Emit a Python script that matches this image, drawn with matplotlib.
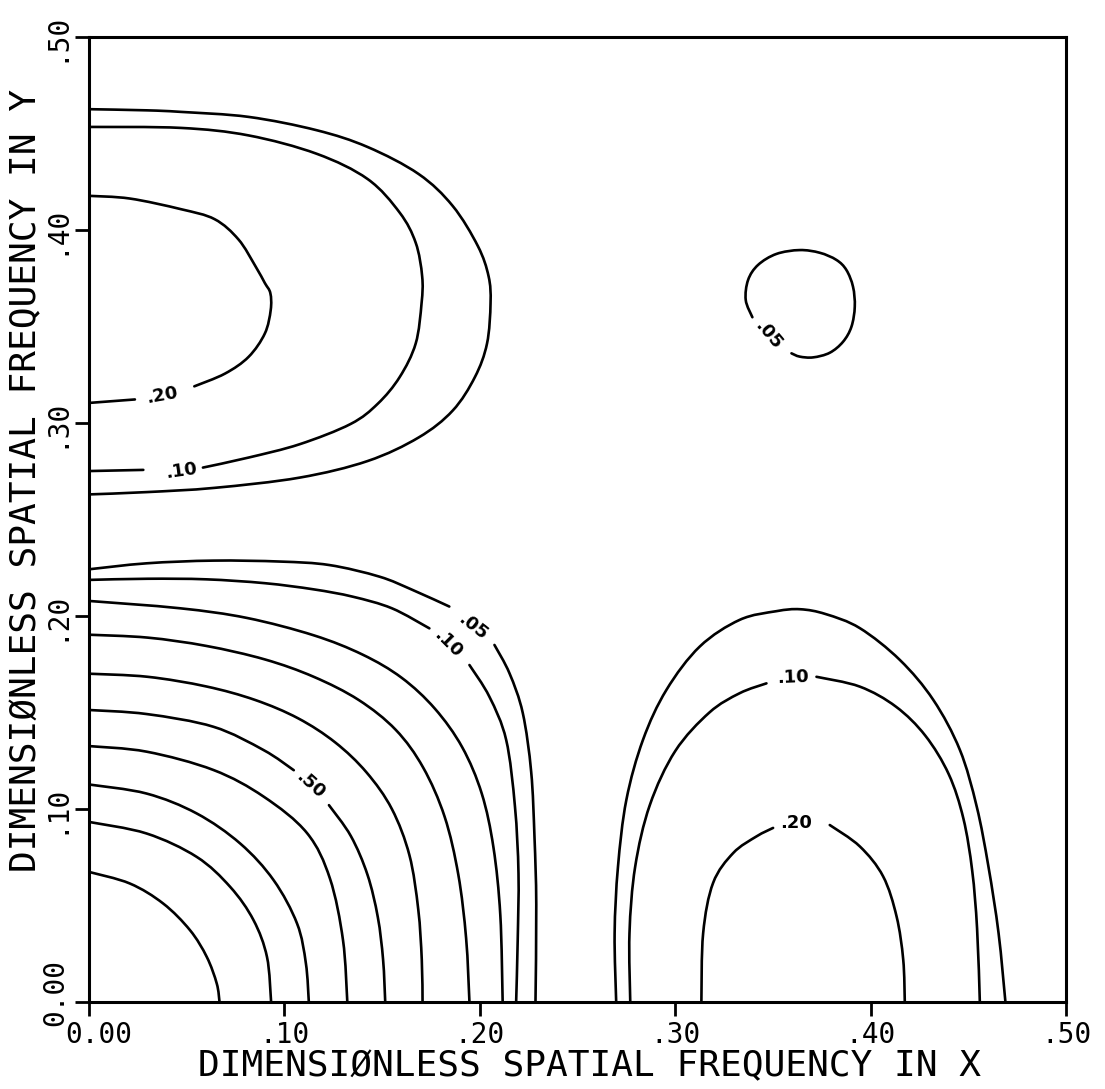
import numpy as np
import matplotlib
matplotlib.use("Agg")
import matplotlib.pyplot as plt
from matplotlib.path import Path
from matplotlib.patches import PathPatch
from matplotlib.transforms import ScaledTranslation

nan = np.nan

# ---------------- data: contour lines ----------------
# Lower-left family (levels .05 ... .90), gaps (nan) where labels sit
ll05_x = [0, 0.0295, 0.0637, 0.098, 0.123, 0.1486, 0.1656, 0.1844, nan, 0.2075, 0.2152, 0.222, 0.2263, 0.228, 0.2289, 0.2285]
ll05_y = [0.2242, 0.2273, 0.2287, 0.2282, 0.2264, 0.2204, 0.2135, 0.2049, nan, 0.1850, 0.1703, 0.1497, 0.1192, 0.0851, 0.0505, 0]
ll10_x = [0, 0.030, 0.060, 0.090, 0.115, 0.135, 0.155, 0.1742, nan, 0.1947, 0.2049, 0.2135, 0.2180, 0.2198, 0.2194, 0.2186]
ll10_y = [0.2187, 0.2193, 0.2190, 0.2170, 0.2138, 0.2100, 0.2040, 0.1936, nan, 0.1746, 0.1582, 0.1358, 0.1012, 0.0666, 0.0321, 0]
ll20_x = [0, 0.0466, 0.0808, 0.115, 0.140, 0.160, 0.177, 0.191, 0.201, 0.207, 0.2105, 0.2117]
ll20_y = [0.2078, 0.2040, 0.1990, 0.1900, 0.1800, 0.1680, 0.1520, 0.1320, 0.1080, 0.0800, 0.0450, 0]
ll30_x = [0, 0.030, 0.060, 0.090, 0.115, 0.138, 0.157, 0.171, 0.182, 0.189, 0.193, 0.1947]
ll30_y = [0.1903, 0.1888, 0.1845, 0.1775, 0.1685, 0.1565, 0.1410, 0.1215, 0.0960, 0.0660, 0.0330, 0]
ll40_x = [0, 0.030, 0.060, 0.085, 0.107, 0.126, 0.142, 0.155, 0.164, 0.1685, 0.1703, 0.1707]
ll40_y = [0.1701, 0.1685, 0.1635, 0.1565, 0.1470, 0.1345, 0.1190, 0.1000, 0.0760, 0.0480, 0.0220, 0]
ll50_x = [0, 0.0295, 0.0637, 0.0894, 0.1048, nan, 0.1228, 0.1340, 0.1425, 0.1478, 0.1505, 0.1516]
ll50_y = [0.1513, 0.1492, 0.1426, 0.1305, 0.1201, nan, 0.1020, 0.0860, 0.0660, 0.0440, 0.0220, 0]
ll60_x = [0, 0.0295, 0.0637, 0.0894, 0.1116, 0.1233, 0.1300, 0.1322]
ll60_y = [0.1326, 0.1297, 0.1202, 0.1064, 0.0875, 0.0640, 0.0320, 0]
ll70_x = [0, 0.0295, 0.0551, 0.0774, 0.0945, 0.1065, 0.1110, 0.1125]
ll70_y = [0.1127, 0.1080, 0.0977, 0.0821, 0.0631, 0.0406, 0.0200, 0]
ll80_x = [0, 0.0295, 0.0551, 0.0723, 0.0842, 0.0911, 0.0932]
ll80_y = [0.0933, 0.0873, 0.0752, 0.0596, 0.0424, 0.0233, 0]
ll90_x = [0, 0.0209, 0.0380, 0.0517, 0.0603, 0.0654, 0.0668]
ll90_y = [0.0674, 0.0614, 0.0510, 0.0372, 0.0233, 0.0095, 0]

# Upper-left family (.05, .10, .20)
ul05_x = [0, 0.0296, 0.047, 0.0817, 0.1165, 0.1426, 0.1687, 0.1861, 0.199, 0.2045, 0.2055, 0.2037, 0.1975, 0.1861, 0.1687, 0.1426, 0.1078, 0.0643, 0.0296, 0]
ul05_y = [0.4626, 0.4620, 0.4612, 0.4586, 0.4517, 0.4430, 0.4290, 0.4125, 0.3917, 0.3760, 0.3621, 0.3412, 0.3238, 0.3064, 0.2925, 0.2803, 0.2717, 0.2664, 0.2642, 0.2630]
ul10_x = [0, 0.0278, nan, 0.0583, 0.0817, 0.1078, 0.1339, 0.1478, 0.159, 0.1672, 0.1702, 0.1705, 0.1672, 0.159, 0.1426, 0.1165, 0.0817, 0.047, 0]
ul10_y = [0.2751, 0.2757, nan, 0.2769, 0.2821, 0.2890, 0.2995, 0.3100, 0.3238, 0.3412, 0.3621, 0.3760, 0.3934, 0.4090, 0.4264, 0.4395, 0.4490, 0.4529, 0.4534]
ul20_x = [0, 0.0235, nan, 0.0539, 0.0696, 0.0817, 0.0900, 0.0930, 0.0928, 0.0900, 0.0852, 0.0765, 0.0643, 0.047, 0.0209, 0]
ul20_y = [0.3104, 0.3122, nan, 0.3190, 0.3256, 0.3343, 0.3464, 0.3586, 0.3673, 0.3725, 0.3812, 0.3951, 0.4056, 0.4108, 0.4163, 0.4177]

# Small closed .05 contour (upper right)
ur05_x = [0.3395, 0.3361, 0.3373, 0.3424, 0.3518, 0.3637, 0.3740, 0.3825, 0.3876, 0.3910, 0.3919, 0.3902, 0.3859, 0.3791, 0.3706, 0.3637, 0.3595]
ur05_y = [0.3548, 0.3637, 0.3741, 0.3819, 0.3876, 0.3896, 0.3882, 0.3845, 0.3793, 0.3706, 0.3603, 0.3499, 0.3421, 0.3364, 0.3340, 0.3344, 0.3361]

# Lower-right arches (.05, .10, .20)
lr05_x = [0.2698, 0.2690, 0.2707, 0.275, 0.2835, 0.2955, 0.3126, 0.333, 0.3518, 0.3640, 0.3770, 0.3945, 0.415, 0.4321, 0.4457, 0.4543, 0.4603, 0.4655, 0.469]
lr05_y = [0, 0.0356, 0.0699, 0.1047, 0.1358, 0.1617, 0.1842, 0.1980, 0.2025, 0.2035, 0.2010, 0.1937, 0.1772, 0.1565, 0.1306, 0.1013, 0.0702, 0.0356, 0]
lr10_x = [0.277, 0.2766, 0.2795, 0.2870, 0.3000, 0.3175, 0.3330, 0.3467, nan, 0.3723, 0.3945, 0.4130, 0.4280, 0.4400, 0.4475, 0.4520, 0.4545, 0.4559]
lr10_y = [0, 0.0356, 0.0700, 0.1020, 0.1300, 0.1500, 0.1600, 0.1651, nan, 0.1685, 0.1634, 0.1530, 0.1380, 0.1180, 0.0950, 0.0680, 0.0380, 0]
lr20_x = [0.3134, 0.3143, 0.3194, 0.3297, 0.3416, 0.3501, nan, 0.3791, 0.3945, 0.4064, 0.4133, 0.4167, 0.4175]
lr20_y = [0, 0.0356, 0.0617, 0.0772, 0.0858, 0.0902, nan, 0.0917, 0.0806, 0.0651, 0.0443, 0.0219, 0]

# Contour labels: text, x, y, rotation
label_text = [".05", ".10", ".50", ".20", ".10", ".05", ".10", ".20"]
label_x = [0.1964, 0.1836, 0.1134, 0.0374, 0.0470, 0.3475, 0.3603, 0.3621]
label_y = [0.1945, 0.1858, 0.1124, 0.3143, 0.2751, 0.3456, 0.1680, 0.0929]
label_rot = [-38, -45, -42, 10, 8, -50, 2, 0]

# Axes ticks
tick_values = [0.0, 0.1, 0.2, 0.3, 0.4, 0.5]
tick_labels = ["0.00", ".10", ".20", ".30", ".40", ".50"]
xlabel = "DIMENSIØNLESS SPATIAL FREQUENCY IN X"
ylabel = "DIMENSIØNLESS SPATIAL FREQUENCY IN Y"


# ---------------- drawing ----------------
def smooth_path(xs, ys):
    """Pen-plotter style smooth stroke through the read points (Catmull-Rom as cubic Bezier)."""
    xs = np.asarray(xs, float)
    ys = np.asarray(ys, float)
    verts, codes = [], []
    idx = np.flatnonzero(~np.isnan(xs))
    runs = np.split(idx, np.flatnonzero(np.diff(idx) != 1) + 1)
    for run in runs:
        if len(run) < 2:
            continue
        P = np.column_stack([xs[run], ys[run]])
        n = len(P)
        verts.append(P[0]); codes.append(Path.MOVETO)
        for i in range(n - 1):
            p0 = P[i - 1] if i > 0 else P[i]
            p1 = P[i]
            p2 = P[i + 1]
            p3 = P[i + 2] if i + 2 < n else P[i + 1]
            c1 = p1 + (p2 - p0) / 6.0
            c2 = p2 - (p3 - p1) / 6.0
            verts.extend([c1, c2, p2]); codes.extend([Path.CURVE4] * 3)
    return Path(verts, codes)


fig = plt.figure(figsize=(11.05, 10.89), dpi=100)
ax = fig.add_axes([89 / 1105, (1089 - 1002) / 1089, (1066 - 89) / 1105, (1002 - 37) / 1089])

lines = [
    (ll05_x, ll05_y), (ll10_x, ll10_y), (ll20_x, ll20_y), (ll30_x, ll30_y), (ll40_x, ll40_y),
    (ll50_x, ll50_y), (ll60_x, ll60_y), (ll70_x, ll70_y), (ll80_x, ll80_y), (ll90_x, ll90_y),
    (ul05_x, ul05_y), (ul10_x, ul10_y), (ul20_x, ul20_y), (ur05_x, ur05_y),
    (lr05_x, lr05_y), (lr10_x, lr10_y), (lr20_x, lr20_y),
]
for lx, ly in lines:
    ax.add_patch(PathPatch(smooth_path(lx, ly), facecolor="none", edgecolor="black",
                           lw=1.9, capstyle="round", joinstyle="round"))

for t, x, y, r in zip(label_text, label_x, label_y, label_rot):
    ax.text(x, y, t, rotation=r, ha="center", va="center", fontsize=13,
            fontweight="bold", family="DejaVu Sans", rotation_mode="anchor")

ax.set_xlim(0, 0.5)
ax.set_ylim(0, 0.5)
for s in ax.spines.values():
    s.set_linewidth(2.2)

mono = "DejaVu Sans Mono"
ax.set_xticks(tick_values)
ax.set_xticklabels(tick_labels, family=mono, fontsize=20)
ax.set_yticks(tick_values)
ax.set_yticklabels(tick_labels, family=mono, fontsize=20, rotation=90, va="center")
ax.tick_params(direction="out", length=10, width=2, pad=4)

# first labels: decimal point sits on the tick
xl0 = ax.get_xticklabels()[0]
xl0.set_transform(xl0.get_transform() + ScaledTranslation(0.10, 0, fig.dpi_scale_trans))
yl0 = ax.get_yticklabels()[0]
yl0.set_transform(yl0.get_transform() + ScaledTranslation(0, 0.10, fig.dpi_scale_trans))

ax.set_xlabel(xlabel, family=mono, fontsize=26)
ax.set_ylabel(ylabel, family=mono, fontsize=26)
ax.xaxis.set_label_coords(0.512, -0.067)
ax.yaxis.set_label_coords(-0.064, 0.54)
ax.xaxis.label.set_va("center")
ax.yaxis.label.set_va("center")

fig.savefig("out.png", dpi=100, facecolor="white")
